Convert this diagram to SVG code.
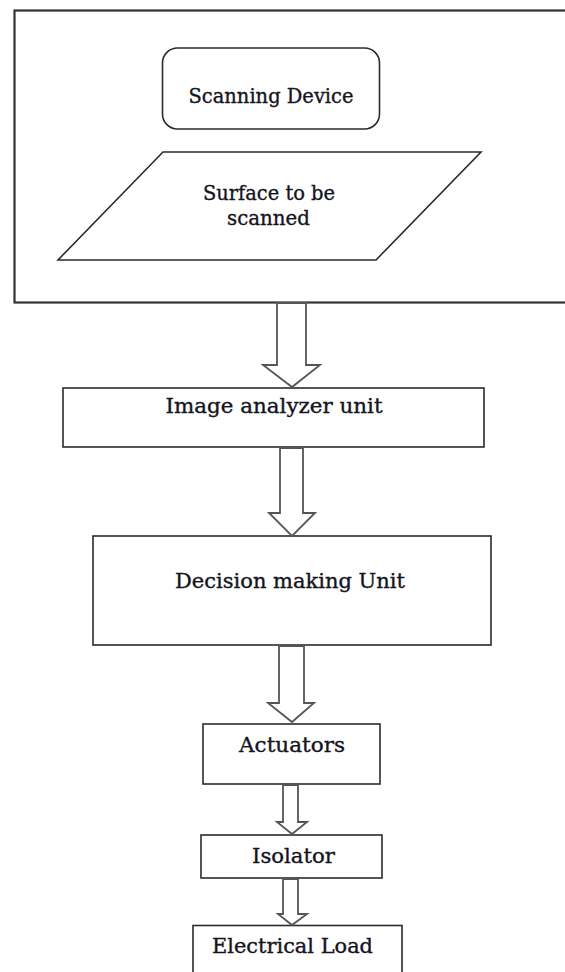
<svg xmlns="http://www.w3.org/2000/svg" width="565" height="972" viewBox="0 0 565 972">
<style>
.box{fill:#fff;stroke:#2b2b2b;stroke-width:1.6}
.outer{fill:#fff;stroke:#333;stroke-width:2.2}
.arr{fill:#fff;stroke:#555;stroke-width:1.8;stroke-linejoin:miter}
.t{font-family:"DejaVu Serif","Liberation Serif",serif;font-size:20.5px;fill:#141420;stroke:#141420;stroke-width:0.35;text-anchor:middle}
</style>
<rect width="565" height="972" fill="#fff"/>
<g id="scanner-group">
<rect class="outer" x="14.5" y="10.5" width="560" height="292"/>
</g>
<g id="scanning-device">
<rect class="box" x="162.5" y="48" width="217" height="81" rx="15" ry="15"/>
<text class="t" x="271" y="103" textLength="165" lengthAdjust="spacingAndGlyphs">Scanning Device</text>
</g>
<g id="surface">
<polygon class="box" points="163,152 481,152 376,260 58,260"/>
<text class="t" x="269" y="200" textLength="132" lengthAdjust="spacingAndGlyphs">Surface to be</text>
<text class="t" x="268.5" y="225" textLength="83" lengthAdjust="spacingAndGlyphs">scanned</text>
</g>
<g id="image-analyzer">
<rect class="box" x="63" y="388" width="421" height="59"/>
<text class="t" x="274" y="413" textLength="217" lengthAdjust="spacingAndGlyphs">Image analyzer unit</text>
</g>
<g id="decision">
<rect class="box" x="93" y="536" width="398" height="109"/>
<text class="t" x="290" y="588" textLength="230" lengthAdjust="spacingAndGlyphs">Decision making Unit</text>
</g>
<g id="actuators">
<rect class="box" x="203" y="724" width="177" height="60"/>
<text class="t" x="292" y="752" textLength="106" lengthAdjust="spacingAndGlyphs">Actuators</text>
</g>
<g id="isolator">
<rect class="box" x="201" y="835" width="181" height="43"/>
<text class="t" x="293.5" y="863" textLength="83" lengthAdjust="spacingAndGlyphs">Isolator</text>
</g>
<g id="electrical-load">
<rect class="box" x="193" y="925.5" width="209" height="60"/>
<text class="t" x="292.5" y="953" textLength="161" lengthAdjust="spacingAndGlyphs">Electrical Load</text>
</g>
<g id="connectors">
<polygon class="arr" points="277,303 306,303 306,365 320,365 292,387 263,365 277,365"/>
<polygon class="arr" points="280,448 303,448 303,513 315,513 292,536 269,513 280,513"/>
<polygon class="arr" points="279,646 304,646 304,703 314,703 292,722 268,703 279,703"/>
<polygon class="arr" points="283,785 298,785 298,822 307,822 292,834 277,822 283,822"/>
<polygon class="arr" points="283,879 298,879 298,914 307,914 292,925 278,914 283,914"/>
</g>
</svg>
